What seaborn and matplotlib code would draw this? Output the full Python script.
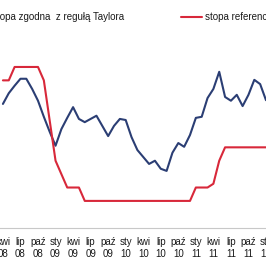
import matplotlib
matplotlib.use("Agg")
import matplotlib.pyplot as plt
import seaborn as sns
import pandas as pd
from matplotlib.lines import Line2D

# ---- data (monthly, Apr 2008 .. Jan 2012) ----
month_names = ["sty", "lut", "mar", "kwi", "maj", "cze", "lip", "sie", "wrz", "paź", "lis", "gru"]
start_year, start_month = 2008, 4
taylor = [5.31, 5.51, 5.65, 5.78, 5.78, 5.59, 5.37, 5.07, 4.79, 4.53, 4.84, 5.05,
          5.25, 5.03, 4.97, 5.03, 5.09, 4.90, 4.71, 4.90, 5.03, 5.01, 4.69, 4.45,
          4.32, 4.19, 4.25, 4.10, 4.06, 4.40, 4.58, 4.51, 4.73, 5.05, 5.07, 5.42,
          5.59, 5.91, 5.44, 5.37, 5.48, 5.27, 5.48, 5.76, 5.68, 5.38]
reference = [5.75, 5.75, 6.00, 6.00, 6.00, 6.00, 6.00, 5.75, 5.00, 4.25, 4.00, 3.75,
             3.75, 3.75, 3.50, 3.50, 3.50, 3.50, 3.50, 3.50, 3.50, 3.50, 3.50, 3.50,
             3.50, 3.50, 3.50, 3.50, 3.50, 3.50, 3.50, 3.50, 3.50, 3.75, 3.75, 3.75,
             3.82, 4.25, 4.50, 4.50, 4.50, 4.50, 4.50, 4.50, 4.50, 4.50]
series_names = ["stopa zgodna  z regułą Taylora", "stopa referencyjna"]

labels = []
for i in range(len(taylor)):
    mm = (start_month - 1 + i) % 12
    yy = start_year + (start_month - 1 + i) // 12
    labels.append(f"{month_names[mm]}\n{yy % 100:02d}")

df = pd.DataFrame({"idx": list(range(len(taylor))) * 2,
                   "value": taylor + reference,
                   "series": [series_names[0]] * len(taylor) + [series_names[1]] * len(reference)})

sns.set_style("white")
plt.rcParams["font.family"] = ["Liberation Sans", "DejaVu Sans"]

fig = plt.figure(figsize=(2.66, 2.66), dpi=100)
ax = fig.add_axes([0, 0.144, 1, 0.856])

blue = "#2B3E74"
red = "#D8283A"
sns.lineplot(data=df, x="idx", y="value", hue="series", palette=[blue, red],
             linewidth=1.5, ax=ax, legend=False)

ax.set_xlim(1 / 3, 44 + 2 / 3)
ax.set_ylim(3.0, 7.25)
ax.set_xlabel("")
ax.set_ylabel("")
ax.set_yticks([])

major = list(range(0, len(taylor), 3))
ax.set_xticks(major)
ax.set_xticklabels([labels[i] for i in major], fontsize=7, color="#1a1a1a", linespacing=1.25)
ax.set_xticks([m - 0.5 for m in major], minor=True)
ax.tick_params(axis="x", which="major", length=0, pad=7)
ax.tick_params(axis="x", which="minor", length=3, width=0.8, color="#bfbfbf", direction="out")

for s in ["top", "left", "right"]:
    ax.spines[s].set_visible(False)
ax.spines["bottom"].set_color("#c8c8c8")
ax.spines["bottom"].set_linewidth(0.8)

# legend
handles = [Line2D([], [], color=blue, lw=1.5), Line2D([], [], color=red, lw=1.5)]
fs = 7.0
fig.canvas.draw()
t = fig.text(0, 0, series_names[0], fontsize=fs)
w1 = t.get_window_extent(renderer=fig.canvas.get_renderer()).width
t.remove()
fs_px = fs * 100 / 72
handle_px = 21
pad_px = 3
col_px = 181 - (-32 + handle_px + pad_px + w1)
leg = fig.legend(handles, series_names, ncol=2, frameon=False, fontsize=fs,
                 loc="upper left", bbox_to_anchor=(-32 / 266, 1 - 12 / 266),
                 borderpad=0, borderaxespad=0,
                 handlelength=handle_px / fs_px, handletextpad=pad_px / fs_px,
                 columnspacing=col_px / fs_px)
for tx in leg.get_texts():
    tx.set_color("#1a1a1a")

fig.savefig("out.png", dpi=100)
